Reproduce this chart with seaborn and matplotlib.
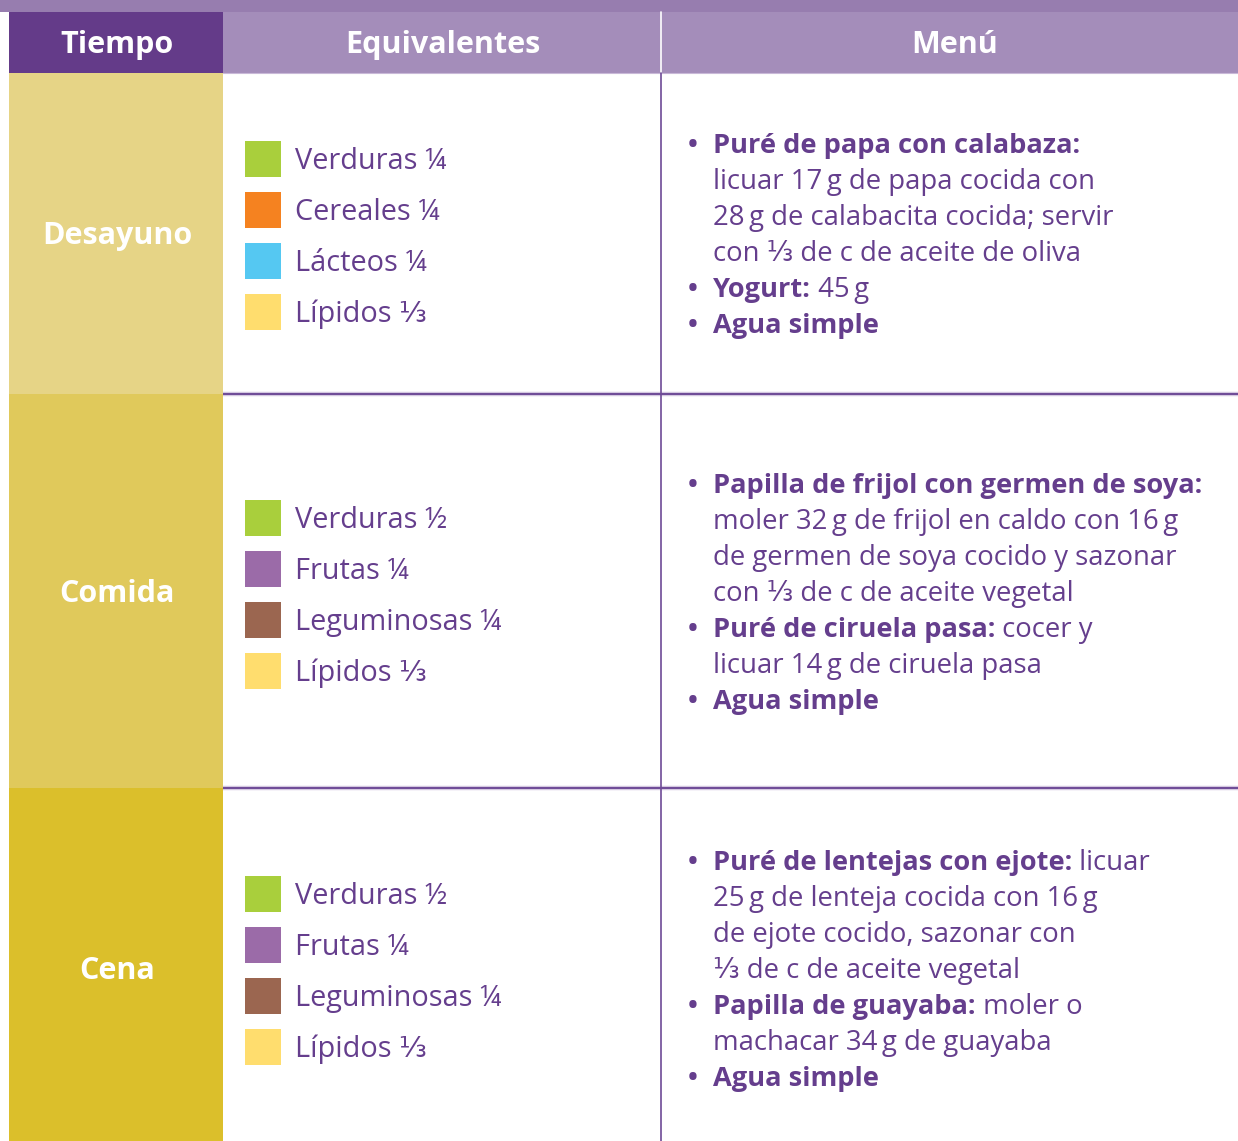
import matplotlib
matplotlib.use("Agg")
import matplotlib.pyplot as plt
from matplotlib.patches import Rectangle
import pandas as pd
import seaborn as sns

W, H = 1238, 1141

HEADERS = ["Tiempo", "Equivalentes", "Menú"]
TIEMPOS = ["Desayuno", "Comida", "Cena"]
ROW_COLORS = ["#E6D486", "#E0C95B", "#DBBF2B"]

EQUIV_GRUPOS = [
    ["Verduras", "Cereales", "Lácteos", "Lípidos"],
    ["Verduras", "Frutas", "Leguminosas", "Lípidos"],
    ["Verduras", "Frutas", "Leguminosas", "Lípidos"],
]
EQUIV_PORCIONES = [
    ["¼", "¼", "¼", "⅓"],
    ["½", "¼", "¼", "⅓"],
    ["½", "¼", "¼", "⅓"],
]
GRUPO_COLOR = {
    "Verduras": "#A9CF3C",
    "Cereales": "#F58220",
    "Lácteos": "#55C8F2",
    "Lípidos": "#FFDD6E",
    "Frutas": "#9B6BA8",
    "Leguminosas": "#9B6650",
}

# (bullet?, bold part, regular part)
MENU = [
    [
        (True, "Puré de papa con calabaza:", ""),
        (False, "", "licuar 17\u2009g de papa cocida con"),
        (False, "", "28\u2009g de calabacita cocida; servir"),
        (False, "", "con ⅓ de c de aceite de oliva"),
        (True, "Yogurt:", " 45\u2009g"),
        (True, "Agua simple", ""),
    ],
    [
        (True, "Papilla de frijol con germen de soya:", ""),
        (False, "", "moler 32\u2009g de frijol en caldo con 16\u2009g"),
        (False, "", "de germen de soya cocido y sazonar"),
        (False, "", "con ⅓ de c de aceite vegetal"),
        (True, "Puré de ciruela pasa:", " cocer y"),
        (False, "", "licuar 14\u2009g de ciruela pasa"),
        (True, "Agua simple", ""),
    ],
    [
        (True, "Puré de lentejas con ejote:", " licuar"),
        (False, "", "25\u2009g de lenteja cocida con 16\u2009g"),
        (False, "", "de ejote cocido, sazonar con"),
        (False, "", "⅓ de c de aceite vegetal"),
        (True, "Papilla de guayaba:", " moler o"),
        (False, "", "machacar 34\u2009g de guayaba"),
        (True, "Agua simple", ""),
    ],
]

PURPLE = "#653E8D"
HEAD_DARK = "#643B89"
HEAD_LIGHT = "#A48DBA"
TOP_BAND = "#977DAF"

sns.set_theme(style="white")
plt.rcParams["font.family"] = ["Open Sans", "DejaVu Sans"]

fig = plt.figure(figsize=(W / 100, H / 100), dpi=100)
ax = fig.add_axes([0, 0, 1, 1])
ax.set_xlim(0, W)
ax.set_ylim(H, 0)
ax.axis("off")

# layout
left_x, col1_x, col2_x = 9, 223, 661
row_tops = [73, 394, 788, H]

ax.add_patch(Rectangle((0, 0), W, 12, color=TOP_BAND, lw=0))
ax.add_patch(Rectangle((left_x, 12), col1_x - left_x, 61, color=HEAD_DARK, lw=0))
ax.add_patch(Rectangle((col1_x, 12), W - col1_x, 61, color=HEAD_LIGHT, lw=0))
ax.plot([col2_x, col2_x], [12, 73], color="white", lw=1.2)
ax.plot([col1_x, W], [72.5, 72.5], color="#C9B9D8", lw=0.8)

for (cx, label) in zip([117, 443, 955], HEADERS):
    ax.text(cx, 45, label, color="white", fontsize=22, fontweight="bold",
            ha="center", va="center")

for i, tiempo in enumerate(TIEMPOS):
    top, bot = row_tops[i], row_tops[i + 1]
    ax.add_patch(Rectangle((left_x, top), col1_x - left_x, bot - top,
                           color=ROW_COLORS[i], lw=0))
    ax.text(117, [236, 594, 971][i], tiempo, color="white", fontsize=22,
            fontweight="bold", ha="center", va="center")

for y in row_tops[1:-1]:
    ax.plot([col1_x, W], [y, y], color="#D4C8E0", lw=3.2, solid_capstyle="butt")
    ax.plot([col1_x, W], [y, y], color="#6E4A96", lw=1.4, solid_capstyle="butt")
ax.plot([col2_x, col2_x], [73, H], color="#6E4A96", lw=1.2)

# equivalentes swatches
first_swatch = [159, 518, 894]
rows = []
for i in range(3):
    for j, (g, p) in enumerate(zip(EQUIV_GRUPOS[i], EQUIV_PORCIONES[i])):
        rows.append({"x": 263, "y": first_swatch[i] + 51 * j, "grupo": g, "label": f"{g} {p}"})
eq = pd.DataFrame(rows)
sns.scatterplot(data=eq, x="x", y="y", hue="grupo", palette=GRUPO_COLOR, marker="s",
                s=672, linewidth=0, legend=False, ax=ax)
for _, r in eq.iterrows():
    ax.text(295, r["y"] + 10, r["label"], color=PURPLE, fontsize=20.8, va="baseline", ha="left")

# menu
fig.canvas.draw()
renderer = fig.canvas.get_renderer()
first_base = [153, 493, 870]
for i, lines in enumerate(MENU):
    for k, (bullet, bold, reg) in enumerate(lines):
        yb = first_base[i] + 36 * k
        x = 713
        if bullet:
            ax.text(693, yb, "•", color=PURPLE, fontsize=19, fontweight="bold",
                    ha="center", va="baseline")
        if bold:
            t = ax.text(x, yb, bold, color=PURPLE, fontsize=19.6, fontweight="bold",
                        ha="left", va="baseline")
            x += t.get_window_extent(renderer).width
        if reg:
            ax.text(x, yb, reg, color=PURPLE, fontsize=19.8, ha="left", va="baseline")

fig.savefig("out.png", dpi=100)
